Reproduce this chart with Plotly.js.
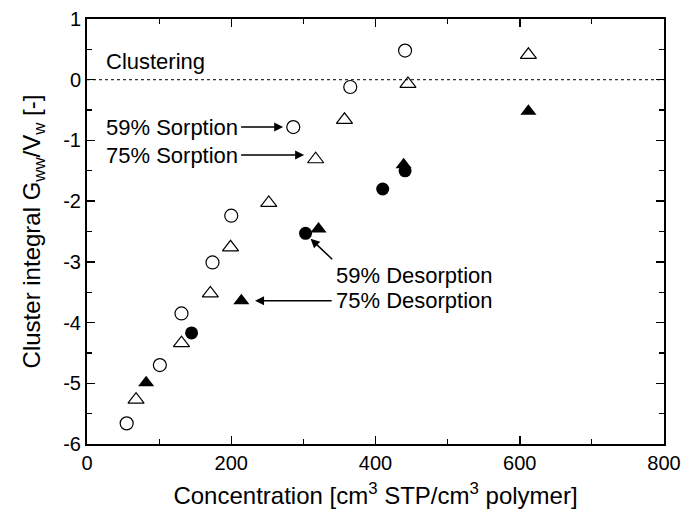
<!DOCTYPE html>
<html>
<head>
<meta charset="utf-8">
<script src="https://cdn.plot.ly/plotly-3.0.1.min.js"></script>
<style>html,body{margin:0;padding:0;background:#fff;}#chart{width:682px;height:520px;}</style>
</head>
<body>
<div id="chart"></div>
<script>
// 59% Sorption (open circles)
const sorp59X = [55, 101, 131, 174, 200, 286, 365, 441];
const sorp59Y = [-5.66, -4.70, -3.85, -3.01, -2.24, -0.78, -0.12, 0.48];
// 75% Sorption (open triangles)
const sorp75X = [68, 131, 171, 199, 252, 317, 357, 445, 612];
const sorp75Y = [-5.27, -4.34, -3.52, -2.76, -2.03, -1.31, -0.66, -0.07, 0.41];
// 59% Desorption (filled circles)
const des59X = [145, 303, 410, 441];
const des59Y = [-4.17, -2.53, -1.80, -1.50];
// 75% Desorption (filled triangles)
const des75X = [82, 214, 321, 439, 612];
const des75Y = [-4.99, -3.64, -2.46, -1.40, -0.52];

const xTickVals = [0, 200, 400, 600, 800];
const yTickVals = [-6, -5, -4, -3, -2, -1, 0, 1];

const FONT = 'Liberation Sans, Arial, sans-serif';

const traces = [
  {x: sorp59X, y: sorp59Y, mode: 'markers', type: 'scatter', name: '59% Sorption',
   marker: {symbol: 'circle-open', size: 13, color: '#000', line: {width: 1.2, color: '#000'}}},
  {x: sorp75X, y: sorp75Y, mode: 'markers', type: 'scatter', name: '75% Sorption',
   marker: {symbol: 'triangle-up-open', size: 14, color: '#000', line: {width: 1.2, color: '#000'}}},
  {x: des59X, y: des59Y, mode: 'markers', type: 'scatter', name: '59% Desorption',
   marker: {symbol: 'circle', size: 13, color: '#000'}},
  {x: des75X, y: des75Y, mode: 'markers', type: 'scatter', name: '75% Desorption',
   marker: {symbol: 'triangle-up', size: 14, color: '#000'}}
];

const axisCommon = {
  showgrid: false, zeroline: false, showline: true, linecolor: '#000', linewidth: 2,
  mirror: 'allticks', ticks: 'inside', ticklen: 8, tickwidth: 1.5, tickcolor: '#000',
  tickfont: {family: FONT, size: 20, color: '#000'}
};

const textFont = {family: FONT, size: 22, color: '#000'};
const arrowStyle = {showarrow: true, arrowhead: 2, arrowsize: 1.2, arrowwidth: 1.5, arrowcolor: '#000', standoff: 0, startstandoff: 2};

const layout = {
  width: 682, height: 520,
  margin: {l: 87, r: 18, t: 19, b: 76},
  paper_bgcolor: '#fff', plot_bgcolor: '#fff',
  showlegend: false,
  xaxis: Object.assign({}, axisCommon, {
    range: [0, 800], tickvals: xTickVals, ticktext: xTickVals.map(String),
    minor: {ticks: 'inside', dtick: 100, ticklen: 5, tickwidth: 1.2, tickcolor: '#000'},
    title: {text: 'Concentration [cm<sup>3</sup> STP/cm<sup>3</sup> polymer]', font: {family: FONT, size: 24, color: '#000'}, standoff: 14}
  }),
  yaxis: Object.assign({}, axisCommon, {
    range: [-6, 1], tickvals: yTickVals, ticktext: yTickVals.map(String),
    minor: {ticks: 'inside', dtick: 0.5, ticklen: 5, tickwidth: 1.2, tickcolor: '#000'},
    title: {text: 'Cluster integral G<sub>ww</sub>/V<sub>w</sub> [-]', font: {family: FONT, size: 24, color: '#000'}, standoff: 16}
  }),
  shapes: [
    {type: 'line', xref: 'x', yref: 'y', x0: 0, x1: 800, y0: 0, y1: 0,
     line: {color: '#000', width: 1, dash: 'dot'}}
  ],
  annotations: [
    {xref: 'x', yref: 'y', x: 23, y: 0.3, text: 'Clustering', showarrow: false, xanchor: 'left', yanchor: 'middle', font: textFont},
    Object.assign({xref: 'x', yref: 'y', axref: 'x', ayref: 'y', x: 272, y: -0.78, ax: 23, ay: -0.78,
      text: '59% Sorption', xanchor: 'left', yanchor: 'middle', font: textFont}, arrowStyle),
    Object.assign({xref: 'x', yref: 'y', axref: 'x', ayref: 'y', x: 301, y: -1.24, ax: 23, ay: -1.24,
      text: '75% Sorption', xanchor: 'left', yanchor: 'middle', font: textFont}, arrowStyle),
    Object.assign({xref: 'x', yref: 'y', axref: 'x', ayref: 'y', x: 310, y: -2.62, ax: 342, ay: -2.98,
      text: '59% Desorption', xanchor: 'left', yanchor: 'top', font: textFont}, arrowStyle),
    Object.assign({xref: 'x', yref: 'y', axref: 'x', ayref: 'y', x: 233, y: -3.64, ax: 342, ay: -3.64,
      text: '75% Desorption', xanchor: 'left', yanchor: 'middle', font: textFont}, arrowStyle)
  ]
};

Plotly.newPlot('chart', traces, layout, {displayModeBar: false, staticPlot: true});
</script>
</body>
</html>
